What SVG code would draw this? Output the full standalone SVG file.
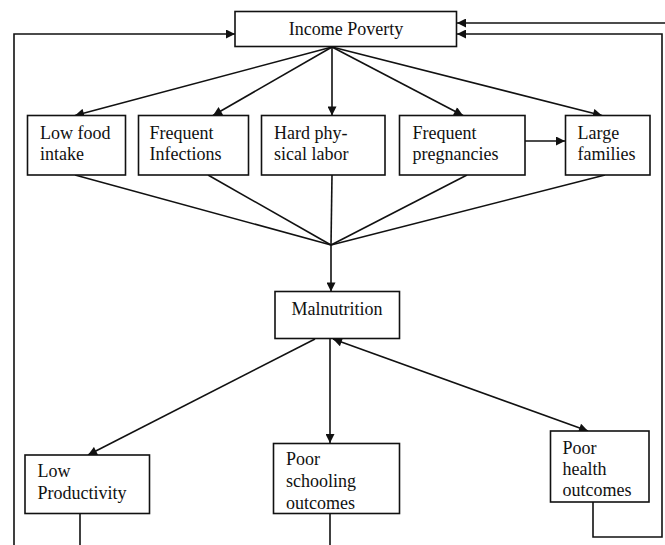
<svg xmlns="http://www.w3.org/2000/svg" width="665" height="545" viewBox="0 0 665 545">
<style>
.box{fill:#fff;stroke:#111;stroke-width:1.6}
.t{font-family:"Liberation Serif","Times New Roman",serif;font-size:18px;fill:#111}
.c{text-anchor:middle}
.ln{fill:none;stroke:#111;stroke-width:1.6}
</style>
<defs>
<marker id="ah" viewBox="0 0 10 10" refX="10" refY="5" markerWidth="11" markerHeight="9" markerUnits="userSpaceOnUse" orient="auto-start-reverse">
<path d="M0,0 L10,5 L0,10 z" fill="#111"/>
</marker>
<clipPath id="cs"><rect x="273" y="443" width="127" height="66.5"/></clipPath>
<clipPath id="ch"><rect x="550" y="431" width="99" height="65.5"/></clipPath>
</defs>
<rect width="665" height="545" fill="#fff"/>
<g id="connectors">
<polyline class="ln" points="14,545 14,34 235,34" marker-end="url(#ah)"/>
<line class="ln" x1="665" y1="23" x2="457" y2="23" marker-end="url(#ah)"/>
<polyline class="ln" points="593,502 593,537 662,537 662,34 457,34" marker-end="url(#ah)"/>
<line class="ln" x1="332" y1="47" x2="75" y2="115.5" marker-end="url(#ah)"/>
<line class="ln" x1="332" y1="47" x2="213" y2="115.5" marker-end="url(#ah)"/>
<line class="ln" x1="332" y1="47" x2="332" y2="115.5" marker-end="url(#ah)"/>
<line class="ln" x1="332" y1="47" x2="463" y2="115.5" marker-end="url(#ah)"/>
<line class="ln" x1="332" y1="47" x2="602" y2="115.5" marker-end="url(#ah)"/>
<line class="ln" x1="525" y1="141" x2="565" y2="141" marker-end="url(#ah)"/>
<line class="ln" x1="75" y1="175" x2="331" y2="245"/>
<line class="ln" x1="208" y1="175" x2="331" y2="245"/>
<line class="ln" x1="332" y1="175" x2="331" y2="245"/>
<line class="ln" x1="467" y1="175" x2="331" y2="245"/>
<line class="ln" x1="605" y1="175" x2="331" y2="245"/>
<line class="ln" x1="331" y1="245" x2="331" y2="291.5" marker-end="url(#ah)"/>
<line class="ln" x1="315" y1="339" x2="88" y2="455" marker-end="url(#ah)"/>
<line class="ln" x1="330" y1="339" x2="330" y2="443" marker-end="url(#ah)"/>
<line class="ln" x1="333" y1="339" x2="588" y2="431" marker-start="url(#ah)" marker-end="url(#ah)"/>
<line class="ln" x1="80" y1="513" x2="80" y2="545"/>
<line class="ln" x1="330" y1="513" x2="330" y2="545"/>
</g>
<g id="income-poverty">
<rect class="box" x="235" y="11.5" width="221.5" height="35"/>
<text class="t c" x="346" y="35">Income Poverty</text>
</g>
<g id="low-food-intake">
<rect class="box" x="27.5" y="115.5" width="98" height="59.5"/>
<text class="t" x="40" y="139">Low food</text>
<text class="t" x="40" y="160">intake</text>
</g>
<g id="frequent-infections">
<rect class="box" x="138.5" y="115.5" width="110" height="59.5"/>
<text class="t" x="149.5" y="139">Frequent</text>
<text class="t" x="149.5" y="160">Infections</text>
</g>
<g id="hard-physical-labor">
<rect class="box" x="261.5" y="115.5" width="123.5" height="59.5"/>
<text class="t" x="274" y="139">Hard phy-</text>
<text class="t" x="274" y="160">sical labor</text>
</g>
<g id="frequent-pregnancies">
<rect class="box" x="399.5" y="115.5" width="125.5" height="59.5"/>
<text class="t" x="412.5" y="139">Frequent</text>
<text class="t" x="412.5" y="160">pregnancies</text>
</g>
<g id="large-families">
<rect class="box" x="565.5" y="115.5" width="84.5" height="59.5"/>
<text class="t" x="577.5" y="139">Large</text>
<text class="t" x="577.5" y="160">families</text>
</g>
<g id="malnutrition">
<rect class="box" x="275" y="291.5" width="124.5" height="47"/>
<text class="t c" x="337" y="314.5">Malnutrition</text>
</g>
<g id="low-productivity">
<rect class="box" x="25" y="455" width="124.5" height="58.5"/>
<text class="t" x="37.5" y="477">Low</text>
<text class="t" x="37.5" y="498.5">Productivity</text>
</g>
<g id="poor-schooling-outcomes">
<rect class="box" x="273.5" y="443.5" width="126" height="70"/>
<text class="t" x="286" y="465">Poor</text>
<text class="t" x="286" y="487">schooling</text>
<text class="t" x="286" y="508.5" clip-path="url(#cs)">outcomes</text>
</g>
<g id="poor-health-outcomes">
<rect class="box" x="550.5" y="431" width="98.5" height="71"/>
<text class="t" x="562.5" y="454">Poor</text>
<text class="t" x="562.5" y="475">health</text>
<text class="t" x="562.5" y="495.5" clip-path="url(#ch)">outcomes</text>
</g>
</svg>
